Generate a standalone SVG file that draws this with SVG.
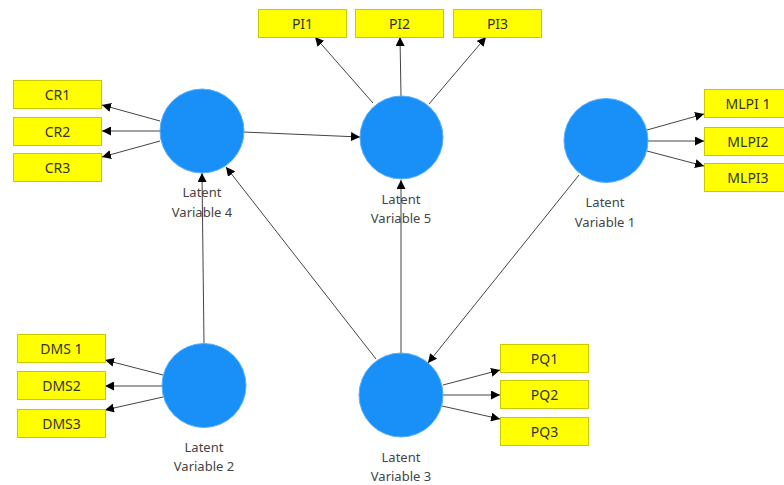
<svg xmlns="http://www.w3.org/2000/svg" width="784" height="485" viewBox="0 0 784 485">
<style>
.box{fill:#FFFF00;stroke:#C9C900;stroke-width:1}
.lv{fill:#1890F8;stroke:#5AAEF8;stroke-width:1}
.bt{font-family:"Noto Sans","Open Sans",sans-serif;font-size:14px;fill:#333;text-anchor:middle}
.lt{font-family:"Noto Sans","Open Sans",sans-serif;font-size:13px;fill:#444;text-anchor:middle}
.c line{stroke:#444;stroke-width:1;marker-end:url(#ah)}
</style>
<defs>
<marker id="ah" markerUnits="userSpaceOnUse" markerWidth="9" markerHeight="9" viewBox="0 0 10 10" refX="10" refY="5" orient="auto">
<path d="M0,0 L10,5 L0,10 z" fill="#000"/>
</marker>
</defs>
<rect width="784" height="485" fill="#fff"/>
<g class="c" id="connectors">
<line x1="160" y1="121" x2="102" y2="105"/>
<line x1="160" y1="131" x2="102" y2="131"/>
<line x1="160" y1="141" x2="102" y2="157"/>
<line x1="243" y1="132" x2="360" y2="137"/>
<line x1="373" y1="103" x2="315" y2="37"/>
<line x1="401" y1="96" x2="400" y2="37"/>
<line x1="429" y1="104" x2="486" y2="37"/>
<line x1="401" y1="353" x2="401" y2="180"/>
<line x1="376" y1="359" x2="226" y2="167"/>
<line x1="204" y1="344" x2="202" y2="173"/>
<line x1="579" y1="175" x2="428" y2="363"/>
<line x1="647" y1="130" x2="704" y2="114"/>
<line x1="648" y1="141" x2="704" y2="141"/>
<line x1="647" y1="151" x2="704" y2="166"/>
<line x1="163" y1="375" x2="105" y2="360"/>
<line x1="162" y1="386" x2="105" y2="386"/>
<line x1="163" y1="397" x2="105" y2="410"/>
<line x1="443" y1="385" x2="500" y2="370"/>
<line x1="443" y1="395" x2="500" y2="395"/>
<line x1="442" y1="406" x2="500" y2="419"/>
</g>
<g id="lv4"><circle class="lv" cx="202" cy="131" r="42"/><text class="lt" x="202" y="197">Latent</text><text class="lt" x="202" y="217">Variable 4</text></g>
<g id="lv5"><circle class="lv" cx="401.5" cy="137.5" r="41.5"/><text class="lt" x="401" y="204">Latent</text><text class="lt" x="401" y="223">Variable 5</text></g>
<g id="lv1"><circle class="lv" cx="606" cy="140.5" r="42"/><text class="lt" x="605" y="207">Latent</text><text class="lt" x="605" y="227">Variable 1</text></g>
<g id="lv2"><circle class="lv" cx="204" cy="385.5" r="42"/><text class="lt" x="204" y="452">Latent</text><text class="lt" x="204" y="471">Variable 2</text></g>
<g id="lv3"><circle class="lv" cx="401" cy="395" r="42"/><text class="lt" x="401" y="462">Latent</text><text class="lt" x="401" y="481">Variable 3</text></g>
<g id="cr1"><rect class="box" x="13.5" y="80.5" width="88" height="28"/><text class="bt" x="57.5" y="99.5">CR1</text></g>
<g id="cr2"><rect class="box" x="13.5" y="117.5" width="88" height="28"/><text class="bt" x="57.5" y="136.5">CR2</text></g>
<g id="cr3"><rect class="box" x="13.5" y="153.5" width="88" height="28"/><text class="bt" x="57.5" y="172.5">CR3</text></g>
<g id="pi1"><rect class="box" x="258.5" y="9.5" width="88" height="28"/><text class="bt" x="302.5" y="28.5">PI1</text></g>
<g id="pi2"><rect class="box" x="355.5" y="9.5" width="88" height="28"/><text class="bt" x="399.5" y="28.5">PI2</text></g>
<g id="pi3"><rect class="box" x="453.5" y="9.5" width="88" height="28"/><text class="bt" x="497.5" y="28.5">PI3</text></g>
<g id="mlpi1"><rect class="box" x="704.5" y="89.5" width="88" height="28"/><text class="bt" x="748" y="108.5">MLPI 1</text></g>
<g id="mlpi2"><rect class="box" x="704.5" y="127.5" width="88" height="28"/><text class="bt" x="748" y="146.5">MLPI2</text></g>
<g id="mlpi3"><rect class="box" x="704.5" y="163.5" width="88" height="28"/><text class="bt" x="748" y="182.5">MLPI3</text></g>
<g id="dms1"><rect class="box" x="17.5" y="334.5" width="88" height="28"/><text class="bt" x="61.5" y="353.5">DMS 1</text></g>
<g id="dms2"><rect class="box" x="17.5" y="371.5" width="88" height="28"/><text class="bt" x="61.5" y="390.5">DMS2</text></g>
<g id="dms3"><rect class="box" x="17.5" y="409.5" width="88" height="28"/><text class="bt" x="61.5" y="428.5">DMS3</text></g>
<g id="pq1"><rect class="box" x="500.5" y="344.5" width="88" height="28"/><text class="bt" x="544.5" y="363.5">PQ1</text></g>
<g id="pq2"><rect class="box" x="500.5" y="380.5" width="88" height="28"/><text class="bt" x="544.5" y="399.5">PQ2</text></g>
<g id="pq3"><rect class="box" x="500.5" y="417.5" width="88" height="28"/><text class="bt" x="544.5" y="436.5">PQ3</text></g>
</svg>
